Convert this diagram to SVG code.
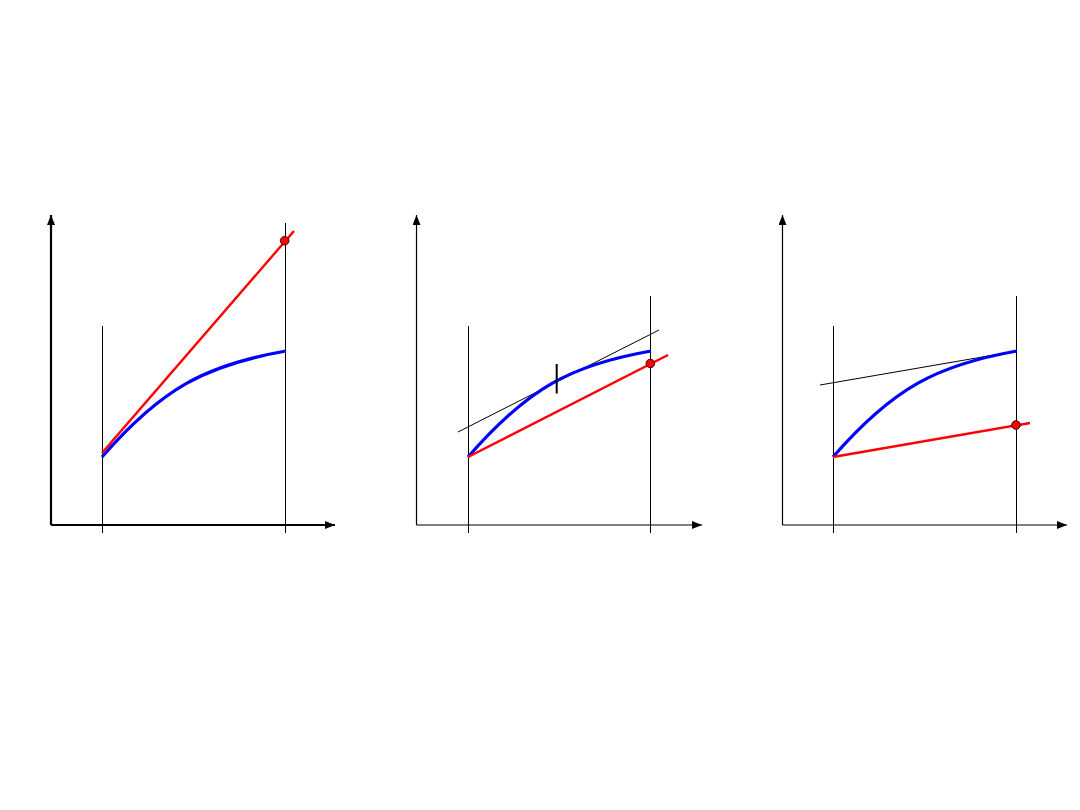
<svg xmlns="http://www.w3.org/2000/svg" width="1080" height="810" viewBox="0 0 1080 810">
<style>
.axis{stroke:#000;fill:none;stroke-width:1.2}
.axis1{stroke:#000;fill:none;stroke-width:2.2}
.thin{stroke:#000;fill:none;stroke-width:1}
.curve{stroke:#0000ff;fill:none;stroke-width:3.2}
.red{stroke:#ff0000;fill:none;stroke-width:2.4}
.dot{fill:#ff0000;stroke:#400000;stroke-width:1}
</style>
<defs>
<marker id="arr" viewBox="0 0 10 8" refX="10" refY="4" markerWidth="10" markerHeight="8" markerUnits="userSpaceOnUse" orient="auto">
<path d="M0,0 L10,4 L0,8 Z" fill="#000"/>
</marker>
</defs>
<rect width="1080" height="810" fill="#fff"/>
<g id="panel1">
<g id="axes1">
<path class="axis1" d="M51,525 V215" marker-end="url(#arr)"/>
<path class="axis1" d="M51,525 H335" marker-end="url(#arr)"/>
</g>
<line class="thin" x1="102.5" y1="326" x2="102.5" y2="533"/>
<line class="thin" x1="285.5" y1="223" x2="285.5" y2="533"/>
<path id="curve1" class="curve" d="M102,457 C162,388 206,365 286,351"/>
<line id="red1" class="red" x1="102" y1="453" x2="294" y2="231"/>
<circle class="dot" cx="284.7" cy="240.7" r="4.3"/>
</g>
<g id="panel2">
<g id="axes2">
<path class="axis" d="M416.5,525 V215" marker-end="url(#arr)"/>
<path class="axis" d="M416.5,525 H702" marker-end="url(#arr)"/>
</g>
<line class="thin" x1="468.5" y1="326" x2="468.5" y2="533"/>
<line class="thin" x1="650.5" y1="296" x2="650.5" y2="533"/>
<line class="thin" x1="458" y1="432" x2="659" y2="330"/>
<path id="curve2" class="curve" d="M468,457 C528,388 571,365 651,351"/>
<line id="red2" class="red" x1="468" y1="457" x2="668" y2="355"/>
<line id="tick2" stroke="#000" stroke-width="2" x1="556.7" y1="364" x2="556.7" y2="393.5"/>
<circle class="dot" cx="650.3" cy="363.5" r="4.3"/>
</g>
<g id="panel3">
<g id="axes3">
<path class="axis" d="M782.5,525 V215" marker-end="url(#arr)"/>
<path class="axis" d="M782.5,525 H1067" marker-end="url(#arr)"/>
</g>
<line class="thin" x1="833.5" y1="326" x2="833.5" y2="533"/>
<line class="thin" x1="1016.5" y1="296" x2="1016.5" y2="533"/>
<line class="thin" x1="820" y1="385" x2="1017" y2="351"/>
<path id="curve3" class="curve" d="M833,457 C893,388 937,365 1017,351"/>
<line id="red3" class="red" x1="833" y1="457" x2="1030" y2="423"/>
<circle class="dot" cx="1016" cy="425" r="4.3"/>
</g>
</svg>
